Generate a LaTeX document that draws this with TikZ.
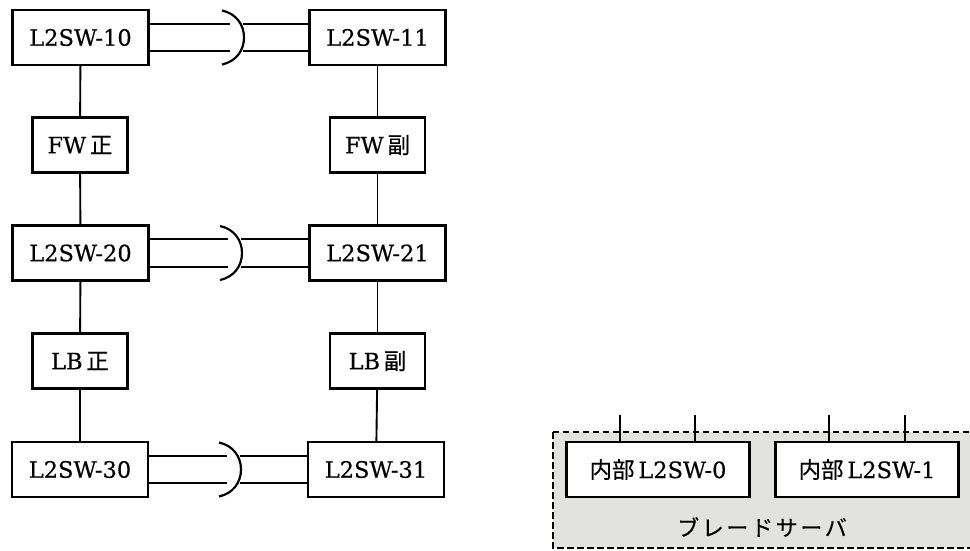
\documentclass[tikz,border=0pt]{standalone}
\usepackage{fontspec}
\setmainfont{DejaVu Serif}[FakeBold=0.5]
\newfontfamily\cjk{Noto Sans CJK JP}[FakeBold=0.4]
\newfontfamily\cjkwide{Noto Sans CJK JP}[LetterSpace=12,FakeBold=0.3]
\definecolor{bladefill}{RGB}{226,226,222}
\tikzset{
  box/.style={draw=black, line width=2.2pt, fill=white, inner sep=0pt, font=\fontsize{22.5}{24}\selectfont},
  bigbox/.style={box, minimum width=136pt, minimum height=55pt},
  midbox/.style={box, minimum width=95pt, minimum height=55pt},
  inbox/.style={box, minimum width=183pt, minimum height=55pt},
  wire/.style={line width=1.9pt},
  bundle/.style={line width=2pt},
  blade/.style={draw=black, line width=2.2pt, dash pattern=on 6.5pt off 3.5pt, fill=bladefill}
}
\begin{document}
\begin{tikzpicture}[x=1pt,y=-1pt]
\useasboundingbox (0,0) rectangle (970,550);
\clip (0,0) rectangle (970,550);
% blade server area
\path[blade] (553,432) rectangle (990,548);
\node[font=\cjkwide\fontsize{22}{24}\selectfont] (bladelabel) at (762,527) {ブレードサーバ};
\node[inbox] (in0) at (658,469.5) {{\cjk 内部}\,L2SW-0};
\node[inbox] (in1) at (867,469.5) {{\cjk 内部}\,L2SW-1};
\coordinate (t0a) at (620,415);
\coordinate (t0b) at (695,415);
\coordinate (t1a) at (829,415);
\coordinate (t1b) at (905,415);
\draw[wire] (in0.north -| t0a) -- (t0a);
\draw[wire] (in0.north -| t0b) -- (t0b);
\draw[wire] (in1.north -| t1a) -- (t1a);
\draw[wire] (in1.north -| t1b) -- (t1b);
% switches
\node[bigbox] (s10) at (80.5,37.5) {L2SW-10};
\node[bigbox] (s11) at (377.5,37.5) {L2SW-11};
\node[bigbox] (s20) at (80.5,253) {L2SW-20};
\node[bigbox] (s21) at (377.5,253) {L2SW-21};
\node[bigbox] (s30) at (80,469.5) {L2SW-30};
\node[bigbox] (s31) at (376,469.5) {L2SW-31};
\node[midbox] (fw0) at (80,145) {FW\,{\cjk 正}};
\node[midbox] (fw1) at (377.5,145) {FW\,{\cjk 副}};
\node[midbox] (lb0) at (80,361) {LB\,{\cjk 正}};
\node[midbox] (lb1) at (377.5,361) {LB\,{\cjk 副}};
% vertical links
\draw[wire] (s10) -- (fw0);
\draw[wire] (fw0) -- (s20);
\draw[wire] (s20) -- (lb0);
\draw[wire] (lb0) -- (s30);
\draw[wire] (s11) -- (fw1);
\draw[wire] (fw1) -- (s21);
\draw[wire] (s21) -- (lb1);
\draw[wire] (lb1) -- (s31);
% bundled links with a ")" mark
\foreach \l/\r/\yc/\xa in {s10/s11/37.5/222, s20/s21/253/220, s30/s31/469.5/219}{
  \coordinate (\l-ua) at (\xa+8,\yc-14);
  \coordinate (\l-la) at (\xa+8,\yc+13.5);
  \coordinate (\l-ub) at (\xa+21,\yc-14);
  \coordinate (\l-lb) at (\xa+21,\yc+13.5);
  \draw[bundle] ([yshift=14pt]\l.east) -- (\l-ua);
  \draw[bundle] ([yshift=-13.5pt]\l.east) -- (\l-la);
  \draw[bundle] (\l-ub) -- ([yshift=14pt]\r.west);
  \draw[bundle] (\l-lb) -- ([yshift=-13.5pt]\r.west);
  \draw[line width=2.2pt] (\xa,\yc-27) .. controls (\xa+14,\yc-24) and (\xa+22,\yc-13) .. (\xa+22,\yc)
     .. controls (\xa+22,\yc+13) and (\xa+14,\yc+24) .. (\xa,\yc+27);
}
\end{tikzpicture}
\end{document}
